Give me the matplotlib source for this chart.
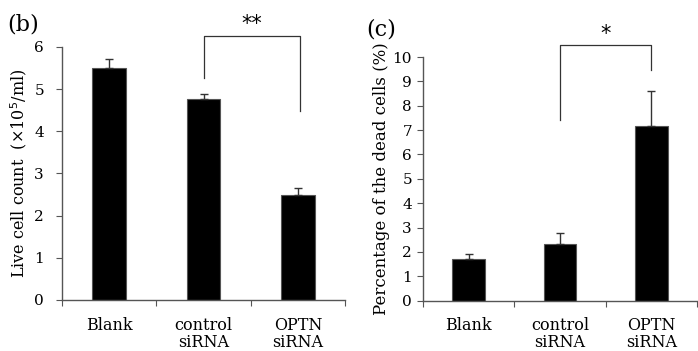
import matplotlib.pyplot as plt

plt.rcParams['font.family'] = ['DejaVu Serif']

# data
groups = ["Blank", "control\nsiRNA", "OPTN\nsiRNA"]
live_mean = [5.50, 4.77, 2.48]
live_err = [0.22, 0.11, 0.17]
dead_mean = [1.70, 2.32, 7.18]
dead_err = [0.20, 0.44, 1.44]

fig = plt.figure(figsize=(6.98, 3.51), dpi=100)
ax1 = fig.add_axes([0.0888, 0.1453, 0.4055, 0.7208])
ax2 = fig.add_axes([0.606, 0.1433, 0.3926, 0.6943])


def draw(ax, means, errs, ymax, step, ypad):
    x = range(len(means))
    ax.bar(x, means, width=0.36, color='black', edgecolor='#555555', linewidth=0.8, zorder=2)
    ax.errorbar(x, means, yerr=[[0] * len(errs), errs], fmt='none', ecolor='#333333',
                elinewidth=1.0, capsize=3, capthick=1.0, zorder=3)
    ax.set_xlim(-0.5, len(means) - 0.5)
    ax.set_ylim(0, ymax)
    ax.set_yticks([i * step for i in range(int(ymax / step) + 1)])
    ax.set_xticks([-0.5, 0.5, 1.5, 2.5])
    ax.set_xticklabels([])
    ax.set_xticks(list(x), minor=True)
    ax.set_xticklabels(groups, minor=True, fontsize=11.5, linespacing=1.0)
    ax.tick_params(axis='x', which='minor', length=0, pad=12)
    ax.tick_params(axis='x', which='major', length=4, color='#555555', direction='out')
    ax.tick_params(axis='y', length=4, color='#555555', labelsize=11, pad=ypad)
    for s in ['top', 'right']:
        ax.spines[s].set_visible(False)
    for s in ['left', 'bottom']:
        ax.spines[s].set_color('#555555')
        ax.spines[s].set_linewidth(1.0)


draw(ax1, live_mean, live_err, 6, 1, 9)
draw(ax2, dead_mean, dead_err, 10, 1, 4)

ax1.set_ylabel("Live cell count  (×10$^5$/ml)", fontsize=11.5, labelpad=4)
ax2.set_ylabel("Percentage of the dead cells (%)", fontsize=12, labelpad=2)

# significance brackets
ax1.plot([1.0, 1.0, 2.02, 2.02], [5.26, 6.26, 6.26, 4.48], color='#333333', lw=0.9, clip_on=False)
ax1.text(1.51, 6.3, "**", ha='center', va='bottom', fontsize=15, family='DejaVu Sans')
ax2.plot([1.0, 1.0, 2.0, 2.0], [7.4, 10.5, 10.5, 9.45], color='#333333', lw=0.9, clip_on=False)
ax2.text(1.5, 10.52, "*", ha='center', va='bottom', fontsize=15, family='DejaVu Sans')

fig.text(0.01, 0.912, "(b)", fontsize=16)
fig.text(0.525, 0.9, "(c)", fontsize=16)

fig.savefig("out.png", dpi=100)
